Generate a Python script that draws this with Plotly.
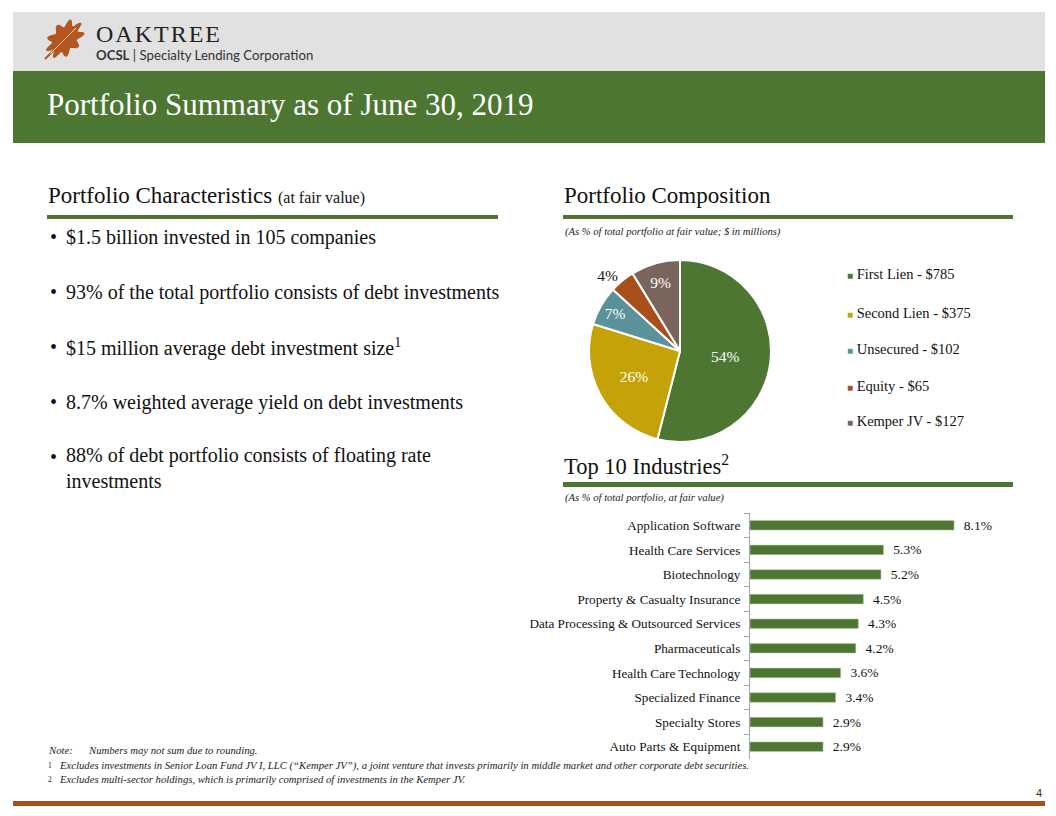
import math
import plotly.graph_objects as go

W, H = 1056, 816

# ---------------- data ----------------
pie_labels = ["First Lien", "Second Lien", "Unsecured", "Equity", "Kemper JV"]
pie_values = [785, 375, 102, 65, 127]
pie_colors = ["#4C7632", "#C4A208", "#5A9299", "#A94F1C", "#7A655C"]
pie_text_pos = ["inside", "inside", "inside", "outside", "inside"]

industries = ["Application Software", "Health Care Services", "Biotechnology",
              "Property & Casualty Insurance", "Data Processing & Outsourced Services",
              "Pharmaceuticals", "Health Care Technology", "Specialized Finance",
              "Specialty Stores", "Auto Parts & Equipment"]
industry_pct = [8.1, 5.3, 5.2, 4.5, 4.3, 4.2, 3.6, 3.4, 2.9, 2.9]

bullets = ["$1.5 billion invested in 105 companies",
           "93% of the total portfolio consists of debt investments",
           "$15 million average debt investment size<sup>1</sup>",
           "8.7% weighted average yield on debt investments",
           "88% of debt portfolio consists of floating rate<br>investments"]

GREEN = "#4C7632"
ORANGE = "#A94F1C"
SERIF = "Liberation Serif"


def px(x):
    return x / W


def py(y):
    return 1 - y / H


fig = go.Figure()

fig.add_trace(go.Pie(
    labels=pie_labels, values=pie_values, sort=False, direction="clockwise",
    rotation=0, marker=dict(colors=pie_colors, line=dict(color="white", width=2)),
    texttemplate="%{percent:.0%}", textposition=pie_text_pos,
    insidetextorientation="horizontal",
    insidetextfont=dict(family=SERIF, size=15.5, color="white"),
    outsidetextfont=dict(family=SERIF, size=15.5, color="#111111"),
    domain=dict(x=[px(589), px(771)], y=[py(442), py(260)]),
    showlegend=False, hoverinfo="label+value+percent"))

fig.add_trace(go.Bar(
    x=industry_pct, y=industries, orientation="h",
    marker=dict(color=GREEN, line=dict(color="#B9CCAA", width=0.6)),
    texttemplate="  %{x:.1f}%", textposition="outside", constraintext="none",
    textfont=dict(family=SERIF, size=13.5, color="#111111"),
    cliponaxis=False, showlegend=False, xaxis="x", yaxis="y"))

shapes = []
annotations = []

# header bands
shapes.append(dict(type="rect", xref="paper", yref="paper", x0=px(13), x1=px(1045),
                   y0=py(71), y1=py(12), fillcolor="#E1E1E1", line=dict(width=0), layer="below"))
shapes.append(dict(type="rect", xref="paper", yref="paper", x0=px(13), x1=px(1045),
                   y0=py(143), y1=py(71), fillcolor=GREEN, line=dict(width=0), layer="below"))

# leaf logo
cx, cy = 65, 39
a, b = 19, 13
dx, dy = math.cos(math.radians(-45)), math.sin(math.radians(-45))
qx, qy = -dy, dx
pts = []
for i in range(161):
    t = 2 * math.pi * i / 160
    r = 1 + 0.2 * math.cos(9 * t)
    u = a * math.cos(t) * r
    v = b * math.sin(t) * r
    X = cx + u * dx + v * qx
    Y = cy + u * dy + v * qy
    pts.append((px(X), py(Y)))
path = "M " + " L ".join(f"{p[0]:.5f},{p[1]:.5f}" for p in pts) + " Z"
shapes.append(dict(type="path", xref="paper", yref="paper", path=path,
                   fillcolor="#B4561F", line=dict(width=0)))
shapes.append(dict(type="line", xref="paper", yref="paper", x0=px(45), y0=py(59),
                   x1=px(55), y1=py(49), line=dict(color="#B4561F", width=2)))
shapes.append(dict(type="line", xref="paper", yref="paper", x0=px(50), y0=py(54),
                   x1=px(76), y1=py(28), line=dict(color="#F3D2B4", width=1)))

annotations.append(dict(x=px(94), y=py(34), text="O\u200aA\u200aK\u200aT\u200aR\u200aE\u200aE",
                        showarrow=False, xanchor="left",
                        yanchor="middle", xref="paper", yref="paper",
                        font=dict(family=SERIF, size=24, color="#222222")))
annotations.append(dict(x=px(94), y=py(55), text="<b>OCSL</b> | Specialty Lending Corporation",
                        showarrow=False, xanchor="left", yanchor="middle", xref="paper", yref="paper",
                        font=dict(family="Lato", size=13.2, color="#333333")))
annotations.append(dict(x=px(45), y=py(104), text="Portfolio Summary as of June 30, 2019",
                        showarrow=False, xanchor="left", yanchor="middle", xref="paper", yref="paper",
                        font=dict(family=SERIF, size=31, color="white")))

# section headings
annotations.append(dict(x=px(46), y=py(195),
                        text="Portfolio Characteristics <span style='font-size:16px'>(at fair value)</span>",
                        showarrow=False, xanchor="left", yanchor="middle", xref="paper", yref="paper",
                        font=dict(family=SERIF, size=23, color="#111111")))
shapes.append(dict(type="rect", xref="paper", yref="paper", x0=px(47), x1=px(498),
                   y0=py(219), y1=py(215), fillcolor=GREEN, line=dict(width=0)))

annotations.append(dict(x=px(562), y=py(195), text="Portfolio Composition",
                        showarrow=False, xanchor="left", yanchor="middle", xref="paper", yref="paper",
                        font=dict(family=SERIF, size=23, color="#111111")))
shapes.append(dict(type="rect", xref="paper", yref="paper", x0=px(563), x1=px(1013),
                   y0=py(219), y1=py(215), fillcolor=GREEN, line=dict(width=0)))
annotations.append(dict(x=px(563), y=py(232),
                        text="<i>(As % of total portfolio at fair value; $ in millions)</i>",
                        showarrow=False, xanchor="left", yanchor="middle", xref="paper", yref="paper",
                        font=dict(family=SERIF, size=10.6, color="#222222")))

annotations.append(dict(x=px(562), y=py(465), text="Top 10 Industries<sup>2</sup>",
                        showarrow=False, xanchor="left", yanchor="middle", xref="paper", yref="paper",
                        font=dict(family=SERIF, size=22.5, color="#111111")))
shapes.append(dict(type="rect", xref="paper", yref="paper", x0=px(563), x1=px(1013),
                   y0=py(487), y1=py(482), fillcolor=GREEN, line=dict(width=0)))
annotations.append(dict(x=px(563), y=py(498),
                        text="<i>(As % of total portfolio, at fair value)</i>",
                        showarrow=False, xanchor="left", yanchor="middle", xref="paper", yref="paper",
                        font=dict(family=SERIF, size=10.6, color="#222222")))

# bullets
bullet_y = [237, 292, 347, 402, 468.5]
dot_y = [237, 292, 347, 402, 457]
for txt, yy, dy_ in zip(bullets, bullet_y, dot_y):
    annotations.append(dict(x=px(48), y=py(dy_), text="•", showarrow=False, xanchor="left",
                            yanchor="middle", xref="paper", yref="paper",
                            font=dict(family=SERIF, size=20, color="#111111")))
    annotations.append(dict(x=px(64), y=py(yy), text=txt, showarrow=False, xanchor="left",
                            yanchor="middle", align="left", xref="paper", yref="paper",
                            font=dict(family=SERIF, size=20, color="#111111")))

# pie legend
legend_y = [274, 313, 349, 386, 421]
for lab, val, col, yy in zip(pie_labels, pie_values, pie_colors, legend_y):
    annotations.append(dict(x=px(845), y=py(yy),
                            text=f"<span style='color:{col};font-size:10px'>■</span> {lab} - ${val}",
                            showarrow=False, xanchor="left", yanchor="middle",
                            xref="paper", yref="paper",
                            font=dict(family=SERIF, size=14.5, color="#111111")))

# footnotes
foot = [("<i>Note:</i>", "<i>Numbers may not sum due to rounding.</i>", 750, 86),
        ("<sup>1</sup>", "<i>Excludes investments in Senior Loan Fund JV I, LLC (“Kemper JV”), a joint venture that invests primarily in middle market and other corporate debt securities.</i>", 765, 57),
        ("<sup>2</sup>", "<i>Excludes multi-sector holdings, which is primarily comprised of investments in the Kemper JV.</i>", 779, 57)]
for lab, txt, yy, xx in foot:
    annotations.append(dict(x=px(46), y=py(yy), text=lab, showarrow=False, xanchor="left",
                            yanchor="middle", xref="paper", yref="paper",
                            font=dict(family=SERIF, size=10.7, color="#222222")))
    annotations.append(dict(x=px(xx), y=py(yy), text=txt, showarrow=False, xanchor="left",
                            yanchor="middle", xref="paper", yref="paper",
                            font=dict(family=SERIF, size=10.7, color="#222222")))

# bottom rule and page number
shapes.append(dict(type="rect", xref="paper", yref="paper", x0=px(13), x1=px(1045),
                   y0=py(806), y1=py(801), fillcolor=ORANGE, line=dict(width=0)))
annotations.append(dict(x=px(1044), y=py(793), text="4", showarrow=False, xanchor="right",
                        yanchor="middle", xref="paper", yref="paper",
                        font=dict(family="Liberation Sans", size=11, color="#333333")))

fig.update_layout(
    width=W, height=H, margin=dict(l=0, r=0, t=0, b=0),
    paper_bgcolor="white", plot_bgcolor="rgba(0,0,0,0)",
    showlegend=False, bargap=0.61,
    shapes=shapes, annotations=annotations,
    xaxis=dict(domain=[px(750), px(1010)], range=[0, 10.32], visible=False, fixedrange=True),
    yaxis=dict(domain=[py(759), py(513)], anchor="x", autorange="reversed",
               type="category", showline=True, linecolor="#A6A6A6", linewidth=1,
               ticks="outside", tickson="boundaries", ticklen=5, tickcolor="#A6A6A6",
               ticklabelstandoff=6,
               showgrid=False, tickfont=dict(family=SERIF, size=13.2, color="#111111"),
               fixedrange=True),
)

fig.write_html("out.html", config={"displayModeBar": False},
               post_script="document.body.style.margin='0';document.body.style.overflow='hidden';")
